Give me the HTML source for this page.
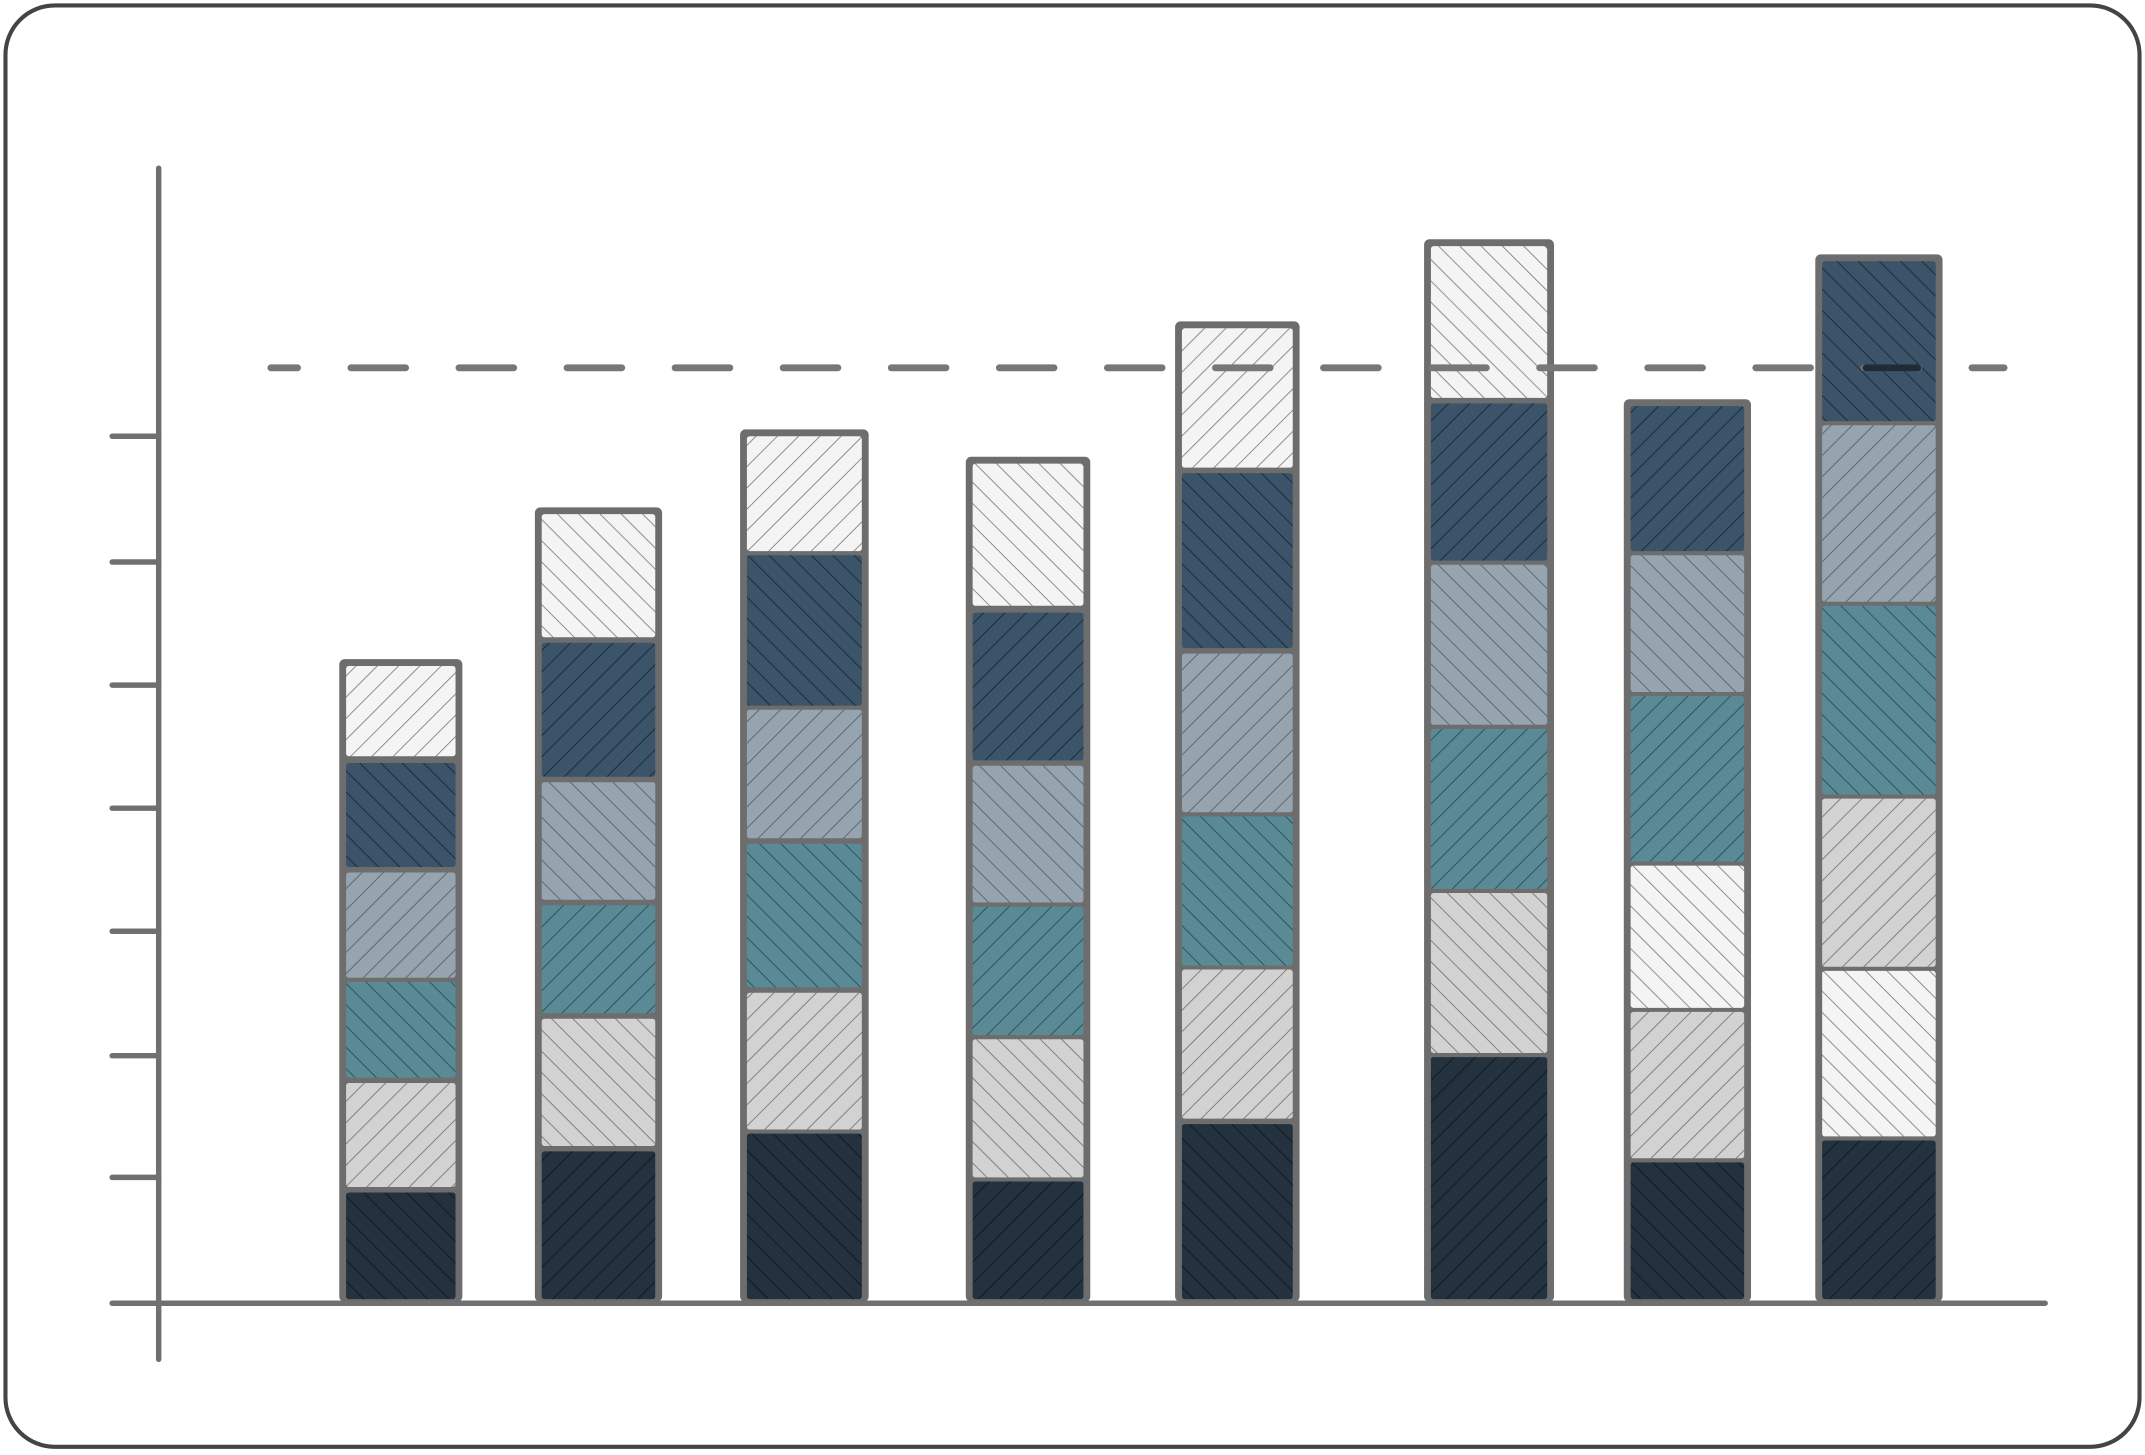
<!DOCTYPE html>
<html><head><meta charset="utf-8"><style>html,body{margin:0;padding:0;background:#fff}svg{display:block}</style></head>
<body>
<svg width="2145" height="1455" viewBox="0 0 1568 1064" preserveAspectRatio="none" xmlns="http://www.w3.org/2000/svg">
<defs>
<pattern id="wa" width="11" height="11" patternUnits="userSpaceOnUse" patternTransform="rotate(-45)"><rect width="11" height="11" fill="#f4f4f4"/><line x1="0" y1="0" x2="0" y2="11" stroke="#8a8a8a" stroke-width="1.4"/></pattern>
<pattern id="wb" width="11" height="11" patternUnits="userSpaceOnUse" patternTransform="rotate(45)"><rect width="11" height="11" fill="#f4f4f4"/><line x1="0" y1="0" x2="0" y2="11" stroke="#8a8a8a" stroke-width="1.4"/></pattern>
<pattern id="la" width="11" height="11" patternUnits="userSpaceOnUse" patternTransform="rotate(-45)"><rect width="11" height="11" fill="#d2d2d2"/><line x1="0" y1="0" x2="0" y2="11" stroke="#7e7e7e" stroke-width="1.4"/></pattern>
<pattern id="lb" width="11" height="11" patternUnits="userSpaceOnUse" patternTransform="rotate(45)"><rect width="11" height="11" fill="#d2d2d2"/><line x1="0" y1="0" x2="0" y2="11" stroke="#7e7e7e" stroke-width="1.4"/></pattern>
<pattern id="ga" width="11" height="11" patternUnits="userSpaceOnUse" patternTransform="rotate(-45)"><rect width="11" height="11" fill="#96a4b0"/><line x1="0" y1="0" x2="0" y2="11" stroke="#5c6670" stroke-width="1.4"/></pattern>
<pattern id="gb" width="11" height="11" patternUnits="userSpaceOnUse" patternTransform="rotate(45)"><rect width="11" height="11" fill="#96a4b0"/><line x1="0" y1="0" x2="0" y2="11" stroke="#5c6670" stroke-width="1.4"/></pattern>
<pattern id="ta" width="11" height="11" patternUnits="userSpaceOnUse" patternTransform="rotate(-45)"><rect width="11" height="11" fill="#5a8a96"/><line x1="0" y1="0" x2="0" y2="11" stroke="#2f505a" stroke-width="1.4"/></pattern>
<pattern id="tb" width="11" height="11" patternUnits="userSpaceOnUse" patternTransform="rotate(45)"><rect width="11" height="11" fill="#5a8a96"/><line x1="0" y1="0" x2="0" y2="11" stroke="#2f505a" stroke-width="1.4"/></pattern>
<pattern id="ba" width="11" height="11" patternUnits="userSpaceOnUse" patternTransform="rotate(-45)"><rect width="11" height="11" fill="#3b5469"/><line x1="0" y1="0" x2="0" y2="11" stroke="#1c2a36" stroke-width="1.4"/></pattern>
<pattern id="bb" width="11" height="11" patternUnits="userSpaceOnUse" patternTransform="rotate(45)"><rect width="11" height="11" fill="#3b5469"/><line x1="0" y1="0" x2="0" y2="11" stroke="#1c2a36" stroke-width="1.4"/></pattern>
<pattern id="na" width="11" height="11" patternUnits="userSpaceOnUse" patternTransform="rotate(-45)"><rect width="11" height="11" fill="#24313f"/><line x1="0" y1="0" x2="0" y2="11" stroke="#111920" stroke-width="1.4"/></pattern>
<pattern id="nb" width="11" height="11" patternUnits="userSpaceOnUse" patternTransform="rotate(45)"><rect width="11" height="11" fill="#24313f"/><line x1="0" y1="0" x2="0" y2="11" stroke="#111920" stroke-width="1.4"/></pattern>
</defs>
<rect x="4" y="4" width="1560" height="1054" rx="36" fill="#fff" stroke="#444" stroke-width="3"/>
<g stroke="#707070" stroke-width="4" stroke-linecap="round">
<line x1="116" y1="123" x2="116" y2="994"/>
<line x1="82" y1="953" x2="1495" y2="953"/>
<line x1="82" y1="319" x2="116" y2="319"/><line x1="82" y1="411" x2="116" y2="411"/><line x1="82" y1="501" x2="116" y2="501"/><line x1="82" y1="591" x2="116" y2="591"/><line x1="82" y1="681" x2="116" y2="681"/><line x1="82" y1="772" x2="116" y2="772"/><line x1="82" y1="861" x2="116" y2="861"/>
</g>
<g fill="#6d6d6d">
<rect x="248" y="482" width="90" height="470" rx="4"/>
<rect x="391" y="371" width="93" height="581" rx="4"/>
<rect x="541" y="314" width="94" height="638" rx="4"/>
<rect x="706" y="334" width="91" height="618" rx="4"/>
<rect x="859" y="235" width="91" height="717" rx="4"/>
<rect x="1041" y="175" width="95" height="777" rx="4"/>
<rect x="1187" y="292" width="93" height="660" rx="4"/>
<rect x="1327" y="186" width="93" height="766" rx="4"/>
</g>
<g>
<rect x="253" y="487" width="80" height="66" rx="2" fill="url(#wb)"/>
<rect x="253" y="558" width="80" height="76" rx="2" fill="url(#ba)"/>
<rect x="253" y="638" width="80" height="77" rx="2" fill="url(#gb)"/>
<rect x="253" y="718" width="80" height="70" rx="2" fill="url(#ta)"/>
<rect x="253" y="792" width="80" height="76" rx="2" fill="url(#lb)"/>
<rect x="253" y="872" width="80" height="78" rx="2" fill="url(#na)"/>

<rect x="396" y="376" width="83" height="90" rx="2" fill="url(#wa)"/>
<rect x="396" y="470" width="83" height="98" rx="2" fill="url(#bb)"/>
<rect x="396" y="572" width="83" height="86" rx="2" fill="url(#ga)"/>
<rect x="396" y="662" width="83" height="79" rx="2" fill="url(#tb)"/>
<rect x="396" y="745" width="83" height="93" rx="2" fill="url(#la)"/>
<rect x="396" y="842" width="83" height="108" rx="2" fill="url(#nb)"/>

<rect x="546" y="319" width="84" height="84" rx="2" fill="url(#wb)"/>
<rect x="546" y="406" width="84" height="110" rx="2" fill="url(#ba)"/>
<rect x="546" y="519" width="84" height="94" rx="2" fill="url(#gb)"/>
<rect x="546" y="617" width="84" height="105" rx="2" fill="url(#ta)"/>
<rect x="546" y="726" width="84" height="100" rx="2" fill="url(#lb)"/>
<rect x="546" y="829" width="84" height="121" rx="2" fill="url(#na)"/>

<rect x="711" y="339" width="81" height="104" rx="2" fill="url(#wa)"/>
<rect x="711" y="448" width="81" height="108" rx="2" fill="url(#bb)"/>
<rect x="711" y="560" width="81" height="100" rx="2" fill="url(#ga)"/>
<rect x="711" y="663" width="81" height="94" rx="2" fill="url(#tb)"/>
<rect x="711" y="760" width="81" height="101" rx="2" fill="url(#la)"/>
<rect x="711" y="864" width="81" height="86" rx="2" fill="url(#nb)"/>

<rect x="864" y="240" width="81" height="102" rx="2" fill="url(#wb)"/>
<rect x="864" y="346" width="81" height="128" rx="2" fill="url(#ba)"/>
<rect x="864" y="478" width="81" height="116" rx="2" fill="url(#gb)"/>
<rect x="864" y="597" width="81" height="109" rx="2" fill="url(#ta)"/>
<rect x="864" y="709" width="81" height="109" rx="2" fill="url(#lb)"/>
<rect x="864" y="822" width="81" height="128" rx="2" fill="url(#na)"/>

<rect x="1046" y="180" width="85" height="111" rx="2" fill="url(#wa)"/>
<rect x="1046" y="295" width="85" height="115" rx="2" fill="url(#bb)"/>
<rect x="1046" y="413" width="85" height="117" rx="2" fill="url(#ga)"/>
<rect x="1046" y="533" width="85" height="117" rx="2" fill="url(#tb)"/>
<rect x="1046" y="653" width="85" height="117" rx="2" fill="url(#la)"/>
<rect x="1046" y="773" width="85" height="177" rx="2" fill="url(#nb)"/>

<rect x="1192" y="297" width="83" height="106" rx="2" fill="url(#bb)"/>
<rect x="1192" y="406" width="83" height="100" rx="2" fill="url(#ga)"/>
<rect x="1192" y="509" width="83" height="121" rx="2" fill="url(#tb)"/>
<rect x="1192" y="633" width="83" height="104" rx="2" fill="url(#wa)"/>
<rect x="1192" y="740" width="83" height="107" rx="2" fill="url(#lb)"/>
<rect x="1192" y="850" width="83" height="100" rx="2" fill="url(#na)"/>

<rect x="1332" y="191" width="83" height="117" rx="2" fill="url(#ba)"/>
<rect x="1332" y="311" width="83" height="129" rx="2" fill="url(#gb)"/>
<rect x="1332" y="443" width="83" height="138" rx="2" fill="url(#ta)"/>
<rect x="1332" y="584" width="83" height="123" rx="2" fill="url(#lb)"/>
<rect x="1332" y="710" width="83" height="121" rx="2" fill="url(#wa)"/>
<rect x="1332" y="834" width="83" height="116" rx="2" fill="url(#nb)"/>
</g>
<line x1="198" y1="269" x2="1465" y2="269" stroke="#777" stroke-width="5" stroke-linecap="round" stroke-dasharray="40 39" stroke-dashoffset="20.5"/>
<line x1="1364" y1="269" x2="1402" y2="269" stroke="#1f2c36" stroke-width="5" stroke-linecap="round"/>
</svg>
</body></html>
